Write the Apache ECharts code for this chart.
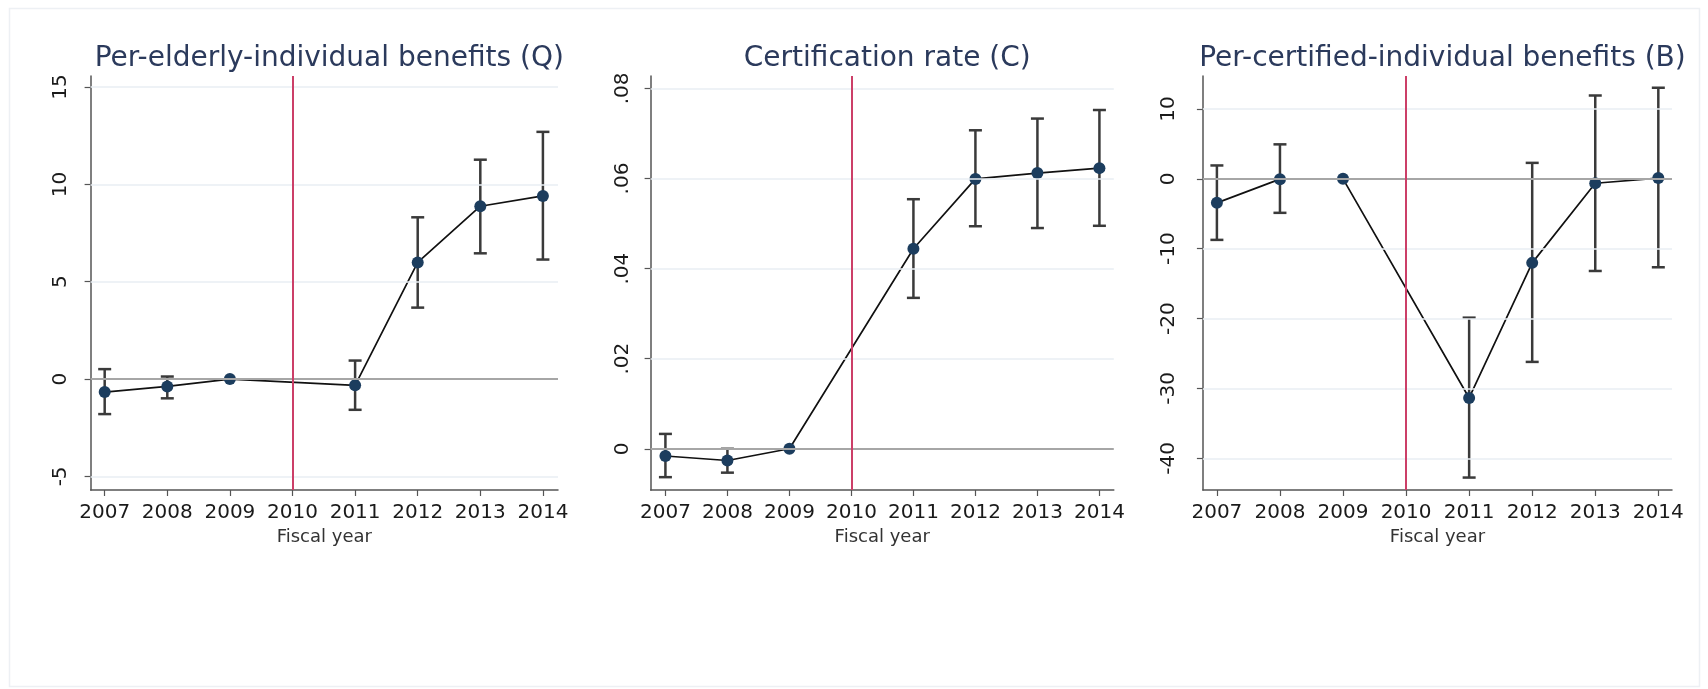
<!DOCTYPE html>
<html>
<head>
<meta charset="utf-8">
<script src="https://cdn.jsdelivr.net/npm/echarts@6/dist/echarts.min.js"></script>
<style>
  html, body { margin: 0; padding: 0; background: #fff; }
  #chart { width: 1708px; height: 689px; }
</style>
</head>
<body>
<div id="chart"></div>
<script>
// event-study coefficients, base year 2009 (no CI), 2010 = reform year
var years = [2007, 2008, 2009, 2011, 2012, 2013, 2014];
var yearTicks = [2007, 2008, 2009, 2010, 2011, 2012, 2013, 2014];
var reformYear = 2010;

var titles = ['Per-elderly-individual benefits (Q)', 'Certification rate (C)', 'Per-certified-individual benefits (B)'];

var qEst = [-0.67, -0.38, 0, -0.32, 5.99, 8.88, 9.41];
var qLo = [-1.80, -0.99, null, -1.58, 3.67, 6.46, 6.14];
var qHi = [0.51, 0.13, null, 0.95, 8.31, 11.27, 12.70];
var qTicks = [-5, 0, 5, 10, 15];

var cEst = [-0.0016, -0.0026, 0, 0.0444, 0.0599, 0.0612, 0.0623];
var cLo = [-0.0063, -0.0053, null, 0.0335, 0.0494, 0.0490, 0.0495];
var cHi = [0.0033, 0.0000, null, 0.0554, 0.0707, 0.0733, 0.0752];
var cTicks = [0, 0.02, 0.04, 0.06, 0.08];

var bEst = [-3.44, -0.05, 0, -31.36, -12.03, -0.64, 0.10];
var bLo = [-8.74, -4.87, null, -42.75, -26.20, -13.19, -12.66];
var bHi = [1.91, 4.93, null, -19.87, 2.28, 11.92, 13.03];
var bTicks = [-40, -30, -20, -10, 0, 10];

// panel geometry (px) and axis extents
var panels = [
    {left: 90.6, width: 467.4, xMin: 2006.775, xMax: 2014.241, yMin: -5.70, yMax: 15.57,
        est: qEst, lo: qLo, hi: qHi, ticks: qTicks, labelGap: 20},
    {left: 650.6, width: 463.2, xMin: 2006.761, xMax: 2014.232, yMin: -0.00915, yMax: 0.08275,
        est: cEst, lo: cLo, hi: cHi, ticks: cTicks, labelGap: 18},
    {left: 1202.9, width: 469.1, xMin: 2006.778, xMax: 2014.217, yMin: -44.53, yMax: 14.71,
        est: bEst, lo: bLo, hi: bHi, ticks: bTicks, labelGap: 24}
];
var gridTop = 76, gridHeight = 414;

var font = 'DejaVu Sans, Verdana, sans-serif';

// Stata-style labels: .08 instead of 0.08
function stataFmt(v) {
    var s = String(+v.toFixed(4));
    return s.replace(/^0\./, '.').replace(/^-0\./, '-.');
}

var option = {
    backgroundColor: '#fff',
    animation: false,
    graphic: [{
        type: 'rect',
        shape: {x: 9.5, y: 8.5, width: 1690, height: 678},
        style: {fill: 'none', stroke: '#edf0f4', lineWidth: 1.5},
        silent: true
    }],
    title: [],
    grid: [],
    xAxis: [],
    yAxis: [],
    series: []
};

panels.forEach(function (p, i) {
    option.title.push({
        text: titles[i],
        left: p.left + p.width / 2,
        top: 40,
        textAlign: 'center',
        textStyle: {color: '#2b3a5c', fontSize: 28, fontWeight: 'normal', fontFamily: font}
    });
    option.grid.push({left: p.left, top: gridTop, width: p.width, height: gridHeight});
    option.xAxis.push({
        type: 'value',
        gridIndex: i,
        min: p.xMin,
        max: p.xMax,
        name: 'Fiscal year',
        nameLocation: 'middle',
        nameGap: 35,
        nameTextStyle: {color: '#333', fontSize: 18, fontFamily: font},
        axisLine: {show: true, onZero: false, lineStyle: {color: '#555', width: 1.5}},
        axisTick: {show: true, customValues: yearTicks, length: 6, lineStyle: {color: '#555', width: 1.2}},
        axisLabel: {
            customValues: yearTicks, margin: 13, color: '#1a1a1a', fontSize: 20, fontFamily: font,
            formatter: function (v) { return String(Math.round(v)); }
        },
        splitLine: {show: false}
    });
    option.yAxis.push({
        type: 'value',
        gridIndex: i,
        min: p.yMin,
        max: p.yMax,
        axisLine: {show: true, onZero: false, lineStyle: {color: '#555', width: 1.5}},
        axisTick: {show: true, customValues: p.ticks, length: 6, lineStyle: {color: '#555', width: 1.2}},
        axisLabel: {
            customValues: p.ticks, rotate: 90, margin: p.labelGap, color: '#1a1a1a', fontSize: 20,
            fontFamily: font, formatter: stataFmt
        },
        splitLine: {show: false}
    });

    // grid lines, zero line and reform-year line
    var gridMarks = p.ticks.filter(function (t) { return t !== 0; }).map(function (t) {
        return {yAxis: t, lineStyle: {color: '#e8eef3', width: 1.5, type: 'solid'}};
    });
    gridMarks.push({yAxis: 0, lineStyle: {color: '#a6a6a6', width: 2, type: 'solid'}});
    gridMarks.push({xAxis: reformYear, lineStyle: {color: '#cc3f68', width: 2, type: 'solid'}});
    option.series.push({
        type: 'line',
        xAxisIndex: i,
        yAxisIndex: i,
        data: [],
        z: 1,
        markLine: {silent: true, symbol: ['none', 'none'], label: {show: false}, data: gridMarks}
    });

    // 95% confidence intervals
    var ciData = [];
    years.forEach(function (y, k) {
        if (p.lo[k] !== null) ciData.push([y, p.lo[k], p.hi[k]]);
    });
    option.series.push({
        type: 'custom',
        xAxisIndex: i,
        yAxisIndex: i,
        z: 3,
        data: ciData,
        renderItem: function (params, api) {
            var top = api.coord([api.value(0), api.value(2)]);
            var bot = api.coord([api.value(0), api.value(1)]);
            var w = 6.5;
            var st = {stroke: '#3a3a3a', lineWidth: 2.5};
            return {
                type: 'group',
                children: [
                    {type: 'line', shape: {x1: top[0], y1: top[1], x2: bot[0], y2: bot[1]}, style: st},
                    {type: 'line', shape: {x1: top[0] - w, y1: top[1], x2: top[0] + w, y2: top[1]}, style: st},
                    {type: 'line', shape: {x1: bot[0] - w, y1: bot[1], x2: bot[0] + w, y2: bot[1]}, style: st}
                ]
            };
        }
    });

    // point estimates
    option.series.push({
        type: 'line',
        xAxisIndex: i,
        yAxisIndex: i,
        z: 4,
        data: years.map(function (y, k) { return [y, p.est[k]]; }),
        symbol: 'circle',
        symbolSize: 12,
        itemStyle: {color: '#1c3d5e'},
        lineStyle: {color: '#111', width: 1.7}
    });
});

var chart = echarts.init(document.getElementById('chart'));
chart.setOption(option);
</script>
</body>
</html>
